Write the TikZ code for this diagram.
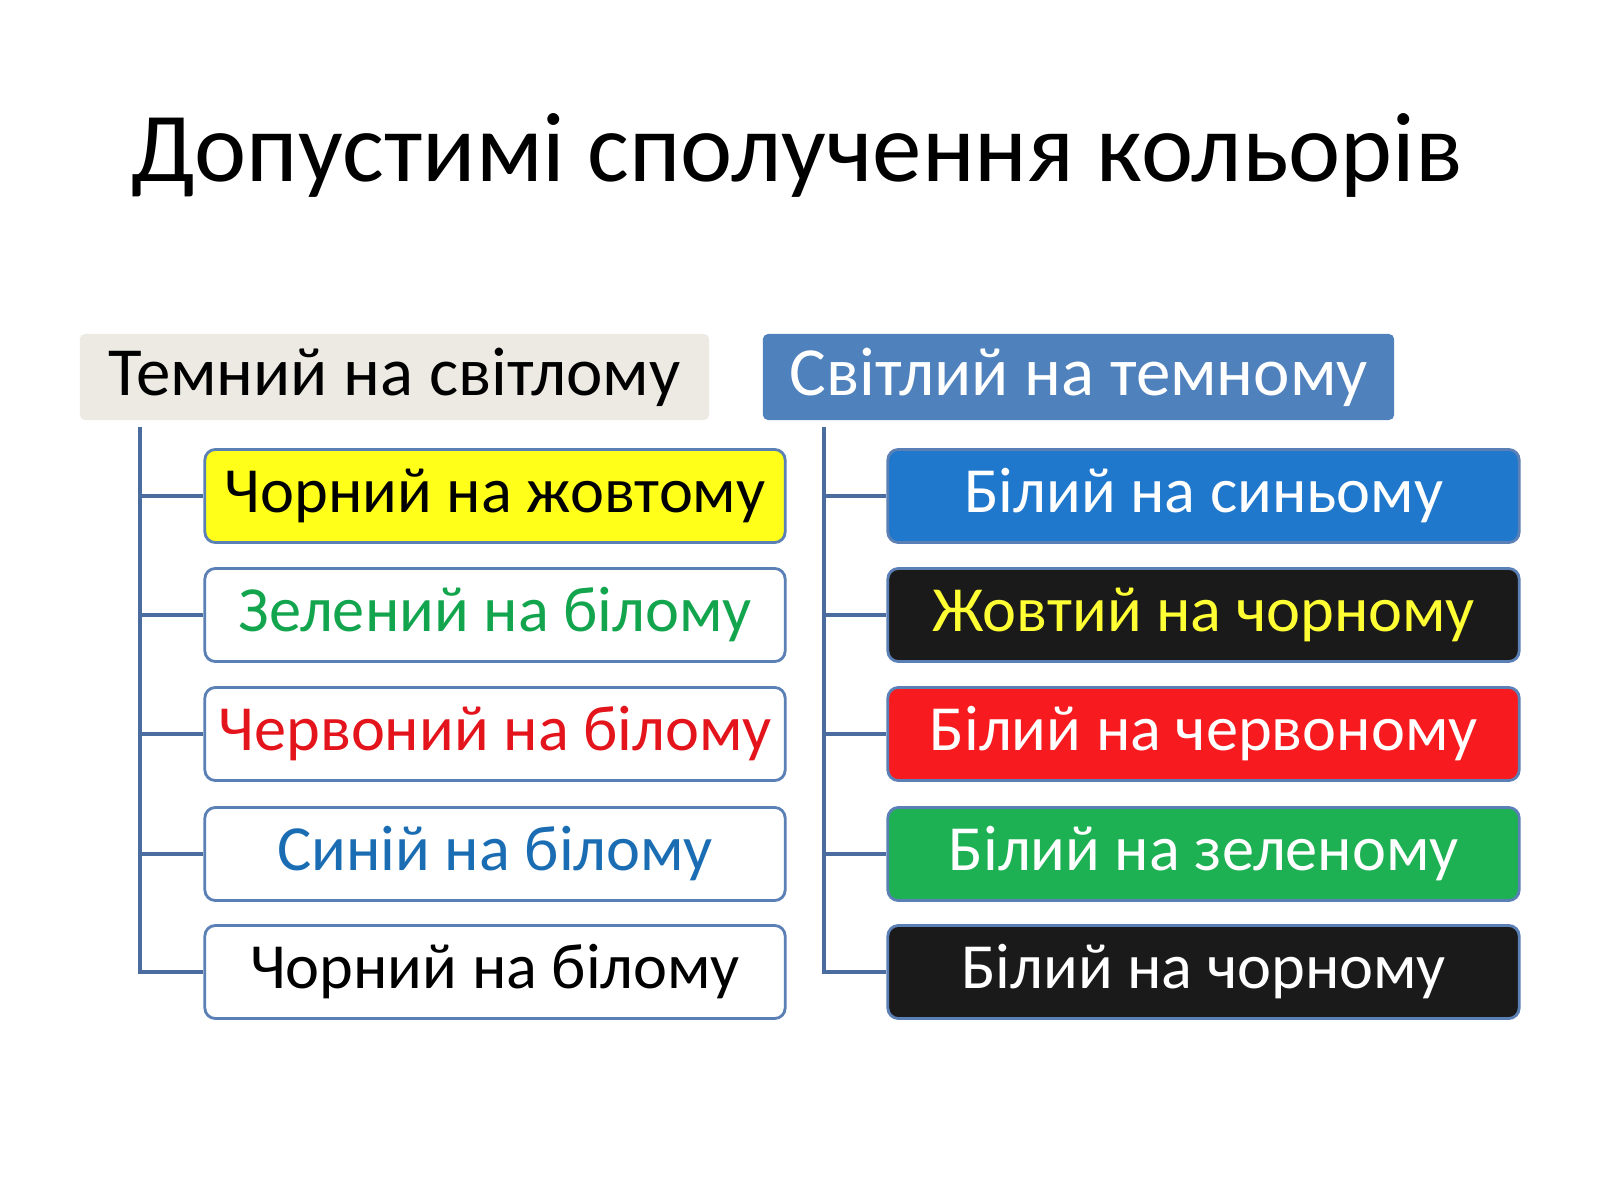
\documentclass[tikz,border=0pt]{standalone}
\usepackage{fontspec}
\setmainfont{Carlito}
\definecolor{hdrgray}{HTML}{ECEAE3}
\definecolor{hdrblue}{HTML}{4F81BD}
\definecolor{lineblue}{HTML}{4A6C9E}
\definecolor{boxborder}{HTML}{5B80B6}
\definecolor{tgreen}{HTML}{13A54E}
\definecolor{tred}{HTML}{E3141B}
\definecolor{tblue}{HTML}{1B6DB3}
\definecolor{fblue}{HTML}{1F78CC}
\definecolor{fblack}{HTML}{1A1A1A}
\definecolor{fred}{HTML}{F71A1F}
\definecolor{fgreen}{HTML}{1DB153}
\definecolor{fyellow}{HTML}{FFFF1A}
\definecolor{tyellow}{HTML}{FFFF33}
\begin{document}
\begin{tikzpicture}[x=0.01cm,y=-0.01cm,
  header/.style={rounded corners=1.5pt, minimum height=0.86cm, inner sep=0pt, font=\fontsize{19.6}{23}\selectfont},
  child/.style={draw=boxborder, line width=0.8pt, rounded corners=3pt, minimum height=0.93cm, inner sep=0pt, font=\fontsize{18.3}{22}\selectfont},
  leftchild/.style={child, minimum width=5.80cm},
  rightchild/.style={child, minimum width=6.31cm},
  conn/.style={draw=lineblue, line width=0.9pt}]
\useasboundingbox (0,0) rectangle (1600,1200);
\fill[white] (0,0) rectangle (1600,1200);
\node[anchor=base, font=\fontsize{28.1}{34}\selectfont] (title) at (797,181) {Допустимі сполучення кольорів};
% headers
\node[header, fill=hdrgray, minimum width=6.29cm] (lh) at (394.5,377) {Темний на світлому};
\node[header, fill=hdrblue, text=white, minimum width=6.31cm] (rh) at (1078.5,377) {Світлий на темному};
% left children
\node[leftchild, fill=fyellow, text=black] (l1) at (495,496) {Чорний на жовтому};
\node[leftchild, fill=white, text=tgreen] (l2) at (495,615) {Зелений на білому};
\node[leftchild, fill=white, text=tred] (l3) at (495,734) {Червоний на білому};
\node[leftchild, fill=white, text=tblue] (l4) at (495,854) {Синій на білому};
\node[leftchild, fill=white, text=black] (l5) at (495,972) {Чорний на білому};
% right children
\node[rightchild, fill=fblue, text=white] (r1) at (1203.5,496) {Білий на синьому};
\node[rightchild, fill=fblack, text=tyellow] (r2) at (1203.5,615) {Жовтий на чорному};
\node[rightchild, fill=fred, text=white] (r3) at (1203.5,734) {Білий на червоному};
\node[rightchild, fill=fgreen, text=white] (r4) at (1203.5,854) {Білий на зеленому};
\node[rightchild, fill=fblack, text=white] (r5) at (1203.5,972) {Білий на чорному};
% connectors
\coordinate (lv) at (140,427);
\coordinate (rv) at (824,427);
\foreach \n in {l1,l2,l3,l4,l5} \draw[conn] (lv) |- (\n.west);
\foreach \n in {r1,r2,r3,r4,r5} \draw[conn] (rv) |- (\n.west);
\end{tikzpicture}
\end{document}
